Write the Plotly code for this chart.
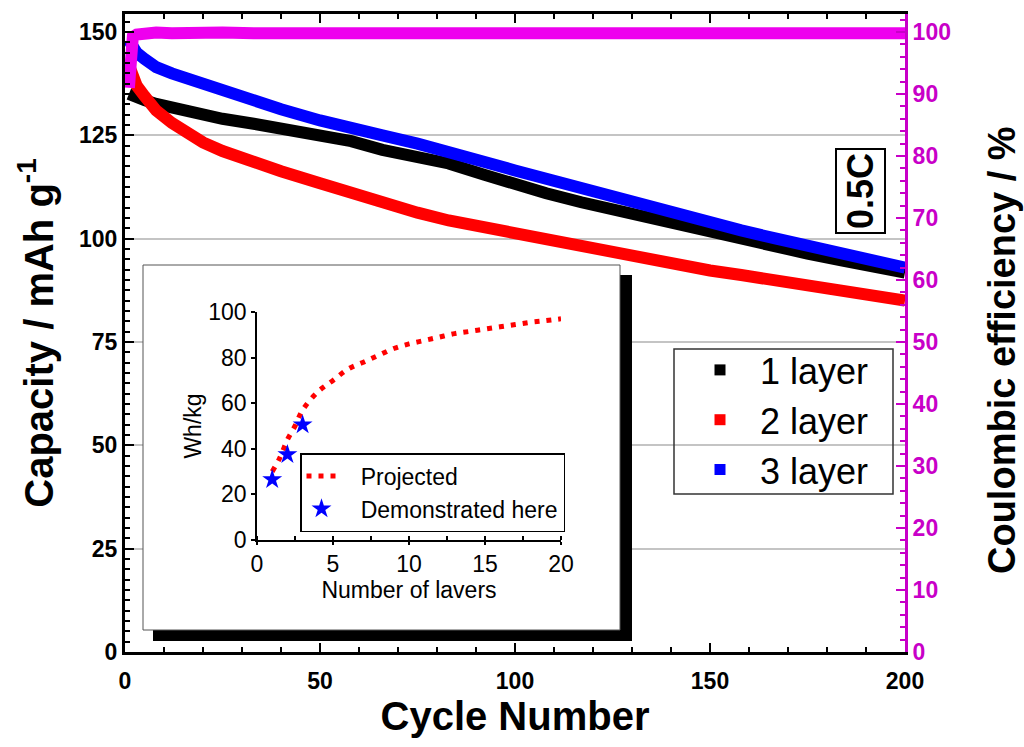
import plotly.graph_objects as go

# ---------------- data ----------------
cycles = [1, 2, 3, 5, 8, 12, 16, 20, 25, 33, 40, 50, 58, 66, 75, 83, 92, 100,
          108, 117, 125, 134, 142, 150, 158, 167, 175, 184, 192, 200]

cap_1layer = [135, 134.5, 134, 133.5, 132.6, 131.6, 130.7, 130, 129, 127.8, 126.8,
              125.3, 123.6, 121.5, 120, 118.2, 115.5, 113, 111, 108.8, 107, 105.2,
              103.2, 101.6, 99.8, 97.9, 96.4, 94.7, 93.3, 91.8]
cap_2layer = [142, 139, 137, 134.5, 131, 128, 125.5, 123.3, 121.2, 118.2, 116.3,
              113.4, 111, 108.3, 106.3, 104.4, 102.7, 101.2, 99.7, 97.9, 96.5, 95,
              93.6, 92.3, 91.2, 89.9, 88.8, 87.5, 86.3, 85]
cap_3layer = [148, 146.5, 145, 143.5, 141.5, 140, 138.7, 137.3, 135.5, 133.3, 131.3,
              128.6, 126.5, 125, 123, 121.2, 118.6, 116.5, 114.4, 112.2, 110.2, 107.8,
              105.7, 104, 102, 100, 98.4, 96.6, 95, 93]
ce = [91, 99.2, 99.6, 99.8, 99.9, 99.8, 99.7, 99.8, 99.9, 99.8, 99.8, 99.9, 99.8,
      99.7, 99.8, 99.9, 99.8, 99.8, 99.7, 99.8, 99.9, 99.8, 99.8, 99.7, 99.8, 99.9,
      99.8, 99.8, 99.9, 99.8]

series_names = ["1 layer", "2 layer", "3 layer"]
series_colors = ["black", "red", "blue"]

# inset
layers_proj = [1, 1.5, 2, 2.5, 3, 4, 5, 6, 7, 8, 9, 10, 11, 12, 13, 14, 15, 16, 17, 18, 19, 20]
whkg_proj = [30, 36, 44, 50, 57, 65, 70, 75, 78, 81, 84, 86, 87.5, 89, 90.5, 91.5,
             92.5, 93.5, 94.5, 95.5, 96.2, 97]
layers_demo = [1, 2, 3]
whkg_demo = [26.5, 37.5, 50.5]

FONT = "Liberation Sans, Arial, sans-serif"
MAG_AXIS = "#C800C8"
MAG_DATA = "#EE00EE"

# plot-area geometry (px)
L, R, T, B = 125, 905, 14, 652
W, H = R - L, B - T
YR = 150 * H / (B - 32)          # 150 sits at y=32 px


def px_x(p):   # pixel -> cycle value
    return (p - L) / W * 200


def px_y(p):   # pixel -> capacity value
    return (B - p) / H * YR


fig = go.Figure()

# main curves
for name, col, vals in zip(series_names, series_colors, [cap_1layer, cap_2layer, cap_3layer]):
    fig.add_trace(go.Scatter(x=cycles, y=vals, mode="lines", line=dict(color=col, width=12),
                             showlegend=False, xaxis="x", yaxis="y"))
fig.add_trace(go.Scatter(x=cycles, y=ce, mode="lines", line=dict(color=MAG_DATA, width=12),
                         showlegend=False, xaxis="x", yaxis="y2"))
# legend entries (square markers)
for name, col in zip(series_names, series_colors):
    fig.add_trace(go.Scatter(x=[None], y=[None], mode="markers", name="\u00a0\u00a0" + name,
                             marker=dict(symbol="square", size=11, color=col),
                             legend="legend", xaxis="x", yaxis="y"))

# inset traces
fig.add_trace(go.Scatter(x=layers_proj, y=whkg_proj, mode="lines", name="\u00a0\u00a0\u00a0Projected",
                         line=dict(color="red", width=5, dash="5px,7px", shape="spline"),
                         legend="legend2", xaxis="x3", yaxis="y3"))
fig.add_trace(go.Scatter(x=layers_demo, y=whkg_demo, mode="markers",
                         name="\u00a0\u00a0\u00a0Demonstrated here",
                         marker=dict(symbol="star", size=15, color="blue"),
                         legend="legend2", xaxis="x3", yaxis="y3"))

fig.update_layout(
    width=1024, height=747, autosize=False,
    margin=dict(l=L, r=1024 - R, t=T, b=747 - B, pad=0),
    paper_bgcolor="white", plot_bgcolor="rgba(0,0,0,0)",
    font=dict(family=FONT, color="black"),
    xaxis=dict(range=[0, 200], domain=[0, 1], anchor="y", showgrid=False, zeroline=False,
               automargin=False,
               showline=True, linecolor="black", linewidth=3, mirror="ticks",
               ticks="inside", ticklen=9, tickwidth=2, tickcolor="black", dtick=50, tick0=0,
               minor=dict(dtick=10, ticks="inside", ticklen=5, tickwidth=2, tickcolor="black"),
               tickfont=dict(size=23, family=FONT, weight="bold"), ticklabelstandoff=6,
               title=dict(text="Cycle Number", font=dict(size=40, weight="bold"), standoff=10)),
    yaxis=dict(range=[0, YR], domain=[0, 1], anchor="x", showgrid=True, gridcolor="#C4C4C4",
               automargin=False,
               gridwidth=1.5, zeroline=False, showline=True, linecolor="black", linewidth=3,
               ticks="inside", ticklen=9, tickwidth=2, tickcolor="black", dtick=25, tick0=0,
               minor=dict(dtick=2.5, ticks="inside", ticklen=5, tickwidth=1.5, tickcolor="black",
                          showgrid=False),
               tickfont=dict(size=23, family=FONT, weight="bold"),
               title=dict(text="Capacity / mAh g<sup>-1</sup>", font=dict(size=40, weight="bold"),
                          standoff=14)),
    yaxis2=dict(range=[0, YR / 1.5], overlaying="y", side="right", anchor="x", showgrid=False,
                automargin=False,
                zeroline=False, showline=True, linecolor=MAG_AXIS, linewidth=3,
                ticks="inside", ticklen=9, tickwidth=2, tickcolor=MAG_AXIS, dtick=10, tick0=0,
                minor=dict(dtick=2, ticks="inside", ticklen=5, tickwidth=1.5, tickcolor=MAG_AXIS),
                tickfont=dict(size=23, family=FONT, weight="bold", color=MAG_AXIS)),
    xaxis3=dict(domain=[(257 - L) / W, (561 - L) / W], anchor="y3", range=[0, 20],
                automargin=False,
                dtick=5, tick0=0, showgrid=False, zeroline=False, showline=True, linecolor="black",
                linewidth=1.5, ticks="outside", ticklen=3, tickwidth=1.5, tickcolor="black",
                minor=dict(dtick=2.5, ticks="inside", ticklen=4, tickwidth=1.5, tickcolor="black"),
                tickfont=dict(size=23, family=FONT), ticklabelstandoff=0,
                title=dict(text="Number of lavers", font=dict(size=23), standoff=2)),
    yaxis3=dict(domain=[(B - 540) / H, (B - 312) / H], anchor="x3", range=[0, 100],
                automargin=False,
                dtick=20, tick0=0, showgrid=False, zeroline=False, showline=True, linecolor="black",
                linewidth=1.5, ticks="outside", ticklen=4, tickwidth=1.5, tickcolor="black",
                tickfont=dict(size=23, family=FONT),
                title=dict(text="Wh/kg", font=dict(size=23), standoff=0)),
    legend=dict(x=(700 - L) / W, y=(B - 340) / H, xanchor="left", yanchor="top",
                bgcolor="rgba(0,0,0,0)", borderwidth=0, font=dict(size=36, family=FONT),
                tracegroupgap=0),
    legend2=dict(x=(300 - L) / W, y=(B - 453) / H, xanchor="left", yanchor="top",
                 bgcolor="white", bordercolor="black", borderwidth=1.5,
                 font=dict(size=23, family=FONT)),
    shapes=[
        # inset shadow and panel (between gridlines and traces of the main plot)
        dict(type="rect", xref="x", yref="y", layer="between",
             x0=px_x(153), x1=px_x(632), y0=px_y(641), y1=px_y(275),
             fillcolor="black", line=dict(width=0)),
        dict(type="rect", xref="x", yref="y", layer="between",
             x0=px_x(143), x1=px_x(620), y0=px_y(630), y1=px_y(265),
             fillcolor="white", line=dict(color="#555555", width=1)),
        # main legend box
        dict(type="rect", xref="paper", yref="paper", layer="above",
             x0=(674 - L) / W, x1=(893 - L) / W, y0=(B - 494) / H, y1=(B - 349) / H,
             fillcolor="rgba(255,255,255,0)", line=dict(color="#333333", width=1.5)),
    ],
    annotations=[
        dict(text="<b>0.5C</b>", xref="paper", yref="paper", x=(861 - L) / W, y=(B - 191) / H,
             xanchor="center", yanchor="middle",
             showarrow=False, textangle=-90, font=dict(size=36, family=FONT, color="black"),
             bordercolor="black", borderwidth=2, borderpad=3, bgcolor="white"),
        dict(text="<b>Coulombic efficiency / %</b>", xref="paper", yref="paper",
             x=(1002 - L) / W, y=(B - 350) / H, xanchor="center", yanchor="middle",
             showarrow=False, textangle=-90, font=dict(size=38, family=FONT, color="black")),
    ],
)

fig.write_html("out.html")
